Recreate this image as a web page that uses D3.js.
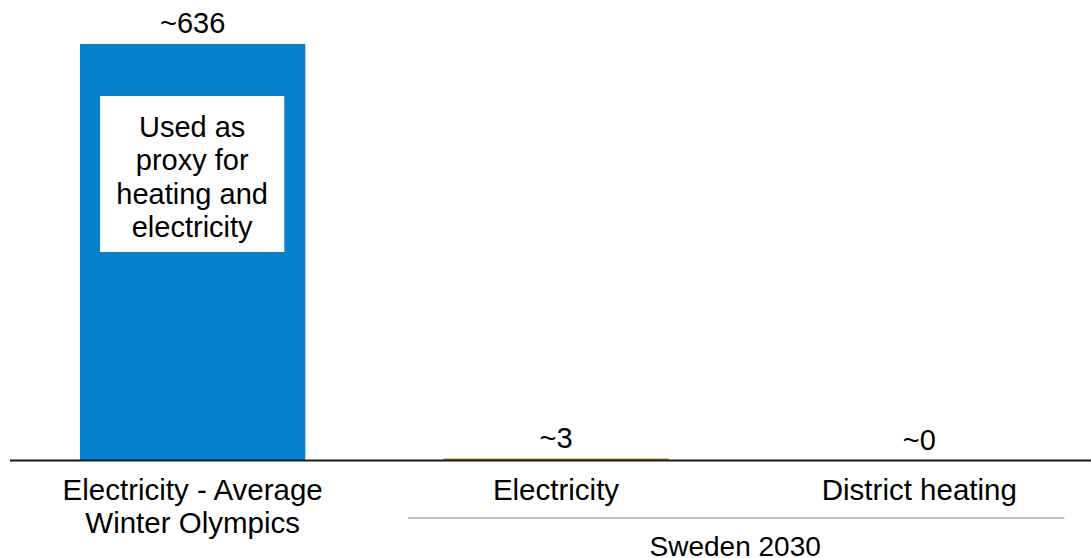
<!DOCTYPE html>
<html>
<head>
<meta charset="utf-8">
<script src="https://cdn.jsdelivr.net/npm/d3@7"></script>
<style>
  html, body { margin: 0; padding: 0; background: #fff; }
  svg { display: block; font-family: "Liberation Sans", Arial, sans-serif; }
</style>
</head>
<body>
<svg id="chart" width="1091" height="558"></svg>
<script>
const categories = ["olympics", "electricity", "district"];
const categoryLabels = [["Electricity - Average", "Winter Olympics"], ["Electricity"], ["District heating"]];
const values = [636, 3, 0];
const valueLabels = ["~636", "~3", "~0"];
const barColors = ["#0580CB", "#A8781A", "#0580CB"];
const noteLines = ["Used as", "proxy for", "heating and", "electricity"];
const groupLabel = "Sweden 2030";

const svg = d3.select("#chart");
const W = 1091, H = 558;
const baseY = 460.5;

const x = d3.scaleBand().domain(categories).range([11, 1101]).paddingInner(0.38).paddingOuter(0.19);
const y = d3.scaleLinear().domain([0, 636]).range([baseY, 44]);

// bars
svg.selectAll("rect.bar").data(values).join("rect")
  .attr("class", "bar")
  .attr("x", (d, i) => x(categories[i]))
  .attr("width", x.bandwidth())
  .attr("y", d => y(d))
  .attr("height", d => baseY - y(d))
  .attr("fill", (d, i) => barColors[i]);

// value labels
svg.selectAll("text.val").data(values).join("text")
  .attr("class", "val")
  .attr("x", (d, i) => x(categories[i]) + x.bandwidth() / 2)
  .attr("y", d => y(d) - 11)
  .attr("text-anchor", "middle")
  .attr("font-size", 29)
  .attr("fill", "#000")
  .text((d, i) => valueLabels[i]);

// note box inside first bar
const bx0 = x(categories[0]);
svg.append("rect")
  .attr("x", bx0 + 20).attr("y", 96)
  .attr("width", x.bandwidth() - 41).attr("height", 156)
  .attr("fill", "#fff");
svg.selectAll("text.note").data(noteLines).join("text")
  .attr("class", "note")
  .attr("x", bx0 + 20 + (x.bandwidth() - 41) / 2)
  .attr("y", (d, i) => 137 + i * 33.3)
  .attr("text-anchor", "middle")
  .attr("font-size", 29)
  .attr("fill", "#000")
  .text(d => d);

// axis baseline
svg.append("line")
  .attr("x1", 10).attr("x2", W)
  .attr("y1", baseY).attr("y2", baseY)
  .attr("stroke", "#1a1a1a").attr("stroke-width", 2);

// category labels
categories.forEach((c, i) => {
  const t = svg.append("text")
    .attr("x", x(c) + x.bandwidth() / 2)
    .attr("text-anchor", "middle")
    .attr("font-size", 29.5)
    .attr("fill", "#000");
  categoryLabels[i].forEach((line, j) => {
    t.append("tspan")
      .attr("x", x(c) + x.bandwidth() / 2)
      .attr("y", 500 + j * 33)
      .text(line);
  });
});

// group bracket line
const gx1 = x(categories[1]) + x.bandwidth() / 2 - 148;
const gx2 = x(categories[2]) + x.bandwidth() / 2 + 145;
svg.append("line")
  .attr("x1", gx1).attr("x2", gx2)
  .attr("y1", 518).attr("y2", 518)
  .attr("stroke", "#a6a6a6").attr("stroke-width", 1.5);
svg.append("text")
  .attr("x", (gx1 + gx2) / 2 - 1)
  .attr("y", 556)
  .attr("text-anchor", "middle")
  .attr("font-size", 28)
  .attr("fill", "#000")
  .text(groupLabel);
</script>
</body>
</html>
